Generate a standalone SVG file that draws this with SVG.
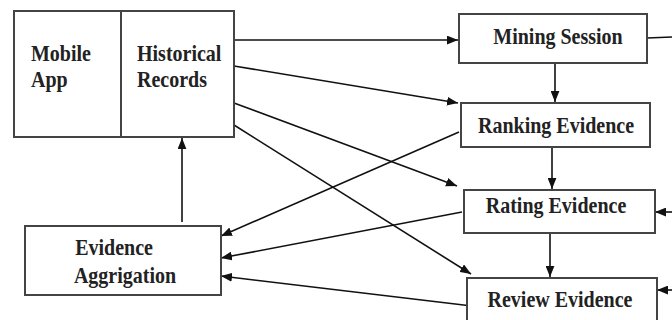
<svg xmlns="http://www.w3.org/2000/svg" width="672" height="320" viewBox="0 0 672 320">
<defs>
<marker id="ah" viewBox="0 0 10 8" refX="10" refY="4" markerWidth="11" markerHeight="9" markerUnits="userSpaceOnUse" orient="auto">
<path d="M0,0 L10,4 L0,8 z" fill="#111"/>
</marker>
</defs>
<style>
.box{fill:#fff;stroke:#444;stroke-width:2}
.t{font-family:"Liberation Serif","Times New Roman",serif;font-weight:bold;font-size:20px;fill:#222}
.c{stroke:#111;stroke-width:1.6;fill:none}
.a{marker-end:url(#ah)}
</style>
<rect width="672" height="320" fill="#fff"/>
<g id="connectors">
<line class="c a" x1="234" y1="40" x2="458" y2="40"/>
<line class="c a" x1="234" y1="66" x2="458" y2="103"/>
<line class="c a" x1="234" y1="103" x2="457" y2="186"/>
<line class="c a" x1="234" y1="125" x2="471" y2="274"/>
<line class="c a" x1="459" y1="132" x2="221" y2="236"/>
<line class="c a" x1="462" y1="212" x2="221" y2="258"/>
<line class="c a" x1="472" y1="306" x2="221" y2="276"/>
<line class="c a" x1="182" y1="222" x2="182" y2="138"/>
<line class="c a" x1="555" y1="63" x2="555" y2="102"/>
<line class="c a" x1="552" y1="147" x2="552" y2="189"/>
<line class="c a" x1="550" y1="233" x2="550" y2="277"/>
<line class="c" x1="647" y1="38" x2="672" y2="37"/>
<line class="c a" x1="672" y1="212" x2="655" y2="212"/>
<line class="c a" x1="672" y1="290" x2="657" y2="290"/>
</g>
<g id="mobile-history">
<rect class="box" x="14" y="11" width="220" height="126"/>
<line x1="121" y1="11" x2="121" y2="137" stroke="#444" stroke-width="2"/>
<text class="t" transform="translate(31,61) scale(1,1.15)">Mobile</text>
<text class="t" transform="translate(31,87) scale(1,1.15)">App</text>
<text class="t" transform="translate(137,61) scale(1,1.15)">Historical</text>
<text class="t" transform="translate(137,87) scale(1,1.15)">Records</text>
</g>
<g id="mining-session">
<rect class="box" x="459" y="14" width="188" height="49"/>
<text class="t" text-anchor="middle" transform="translate(558,44) scale(1,1.15)">Mining Session</text>
</g>
<g id="ranking-evidence">
<rect class="box" x="461" y="103" width="189" height="44"/>
<text class="t" text-anchor="middle" transform="translate(556,133) scale(1,1.15)">Ranking Evidence</text>
</g>
<g id="rating-evidence">
<rect class="box" x="464" y="190" width="191" height="43"/>
<text class="t" text-anchor="middle" transform="translate(556,213) scale(1,1.15)">Rating Evidence</text>
</g>
<g id="review-evidence">
<rect class="box" x="467" y="278" width="190" height="46"/>
<text class="t" text-anchor="middle" transform="translate(560,307) scale(1,1.15)">Review Evidence</text>
</g>
<g id="evidence-aggregation">
<rect class="box" x="25" y="226" width="196" height="69"/>
<text class="t" text-anchor="middle" transform="translate(114,255) scale(1,1.15)">Evidence</text>
<text class="t" text-anchor="middle" transform="translate(125,283) scale(1,1.15)">Aggrigation</text>
</g>
</svg>
